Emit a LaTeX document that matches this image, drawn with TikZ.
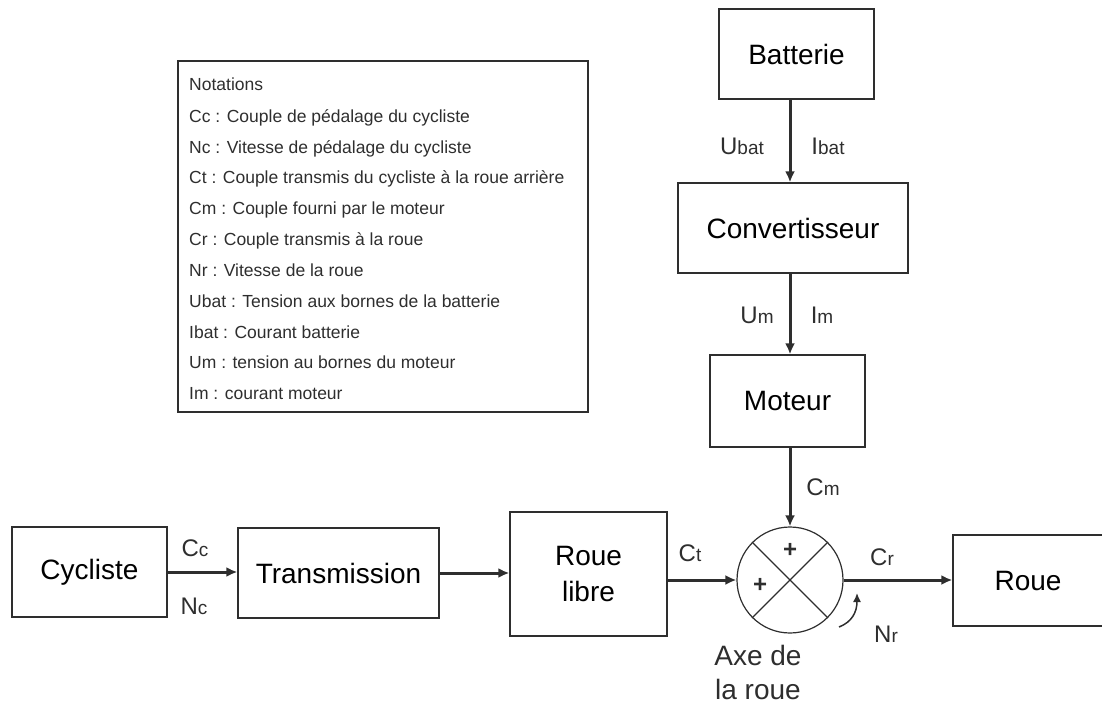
\documentclass[tikz,border=0pt]{standalone}
\usepackage{fontspec}
\setmainfont{Liberation Sans}
\usetikzlibrary{arrows.meta,calc}
\definecolor{ink}{HTML}{2E2E2E}
\newcommand\fsz[1]{\fontsize{#1}{#1}\selectfont}
% symbol with a smaller index on the same baseline
\newcommand\sym[2]{{\fsz{24}#1}{\fsz{19}#2}}
\tikzset{
  blk/.style={draw=ink, line width=1.3pt, fill=white, inner sep=0pt, align=center, font=\fsz{28}},
  flow/.style={draw=ink, line width=3pt, -{Latex[length=11pt,width=10pt]}},
  lbl/.style={inner sep=0pt, text=ink},
  note/.style={inner sep=0pt, anchor=base west, font=\fsz{17.5}, text=ink},
}
\begin{document}
\begin{tikzpicture}[x=1pt,y=-1pt]
\useasboundingbox (0,0) rectangle (1102,706);

% legend frame
\draw[ink, line width=1.3pt] (178,61) rectangle (588,412);
\node[note] (n0) at (189,91) {Notations};
\node[note] (n1) at (189,122) {Cc : Couple de pédalage du cycliste};
\node[note] (n2) at (189,153) {Nc : Vitesse de pédalage du cycliste};
\node[note] (n3) at (189,183.5) {Ct : Couple transmis du cycliste à la roue arrière};
\node[note] (n4) at (189,214.5) {Cm : Couple fourni par le moteur};
\node[note] (n5) at (189,245) {Cr : Couple transmis à la roue};
\node[note] (n6) at (189,276) {Nr : Vitesse de la roue};
\node[note] (n7) at (189,307) {Ubat : Tension aux bornes de la batterie};
\node[note] (n8) at (189,338) {Ibat : Courant batterie};
\node[note] (n9) at (189,368.5) {Um : tension au bornes du moteur};
\node[note] (n10) at (189,399) {Im : courant moteur};

% blocks
\node[blk, minimum width=155, minimum height=90] (bat) at (796.5,54) {Batterie};
\node[blk, minimum width=230, minimum height=90] (conv) at (793,228) {Convertisseur};
\node[blk, minimum width=155, minimum height=92] (mot) at (787.5,401) {Moteur};
\node[blk, minimum width=155, minimum height=90] (cyc) at (89.5,572) {Cycliste};
\node[blk, minimum width=201, minimum height=90] (tra) at (338.5,573) {Transmission};
\node[blk, minimum width=157, minimum height=124] (rl) at (588.5,574) {Roue\\[8pt]libre};
\node[blk, minimum width=150, minimum height=91] (roue) at (1028,580.5) {Roue};

% summing junction on the wheel axle
\node[draw=ink, line width=1.2pt, circle, minimum size=106, inner sep=0pt] (sum) at (790,580) {};
\draw[ink, line width=1.2pt] (sum.north west) -- (sum.south east);
\draw[ink, line width=1.2pt] (sum.south west) -- (sum.north east);
\node[lbl, font=\fsz{24}\bfseries] (p1) at (790,550) {+};
\node[lbl, font=\fsz{24}\bfseries] (p2) at (760,585) {+};

% power chain
\draw[flow] (bat.south -| sum.north) -- (conv.north -| sum.north);
\draw[flow] (conv.south -| sum.north) -- (mot.north -| sum.north);
\draw[flow] (mot.south -| sum.north) -- (sum.north);
\draw[flow] (cyc.east) -- (cyc.east -| tra.west);
\draw[flow] (tra.east) -- (tra.east -| rl.west);
\draw[flow] (rl.east |- sum.west) -- (sum.west);
\draw[flow] (sum.east) -- (sum.east -| roue.west);

% wheel speed
\coordinate (nrs) at (839,627);
\coordinate (nre) at (857,593);
\draw[ink, line width=1.5pt, -{Latex[length=9pt,width=8pt]}]
  (nrs) .. controls (852,622) and (857,612) .. (nre);

% quantity labels
\node[lbl] (ubat) at (742,146) {\sym{U}{bat}};
\node[lbl] (ibat) at (828,146) {\sym{I}{bat}};
\node[lbl] (um) at (757,315) {\sym{U}{m}};
\node[lbl] (im) at (822,315) {\sym{I}{m}};
\node[lbl] (cm) at (823,487) {\sym{C}{m}};
\node[lbl] (cc) at (195,548) {\sym{C}{c}};
\node[lbl] (nc) at (194,606) {\sym{N}{c}};
\node[lbl] (ct) at (690,553) {\sym{C}{t}};
\node[lbl] (cr) at (882,557) {\sym{C}{r}};
\node[lbl] (nr) at (886,634) {\sym{N}{r}};
\node[lbl, font=\fsz{28}, align=center] (axe) at (758,672) {Axe de\\[6pt]la roue};
\end{tikzpicture}
\end{document}
